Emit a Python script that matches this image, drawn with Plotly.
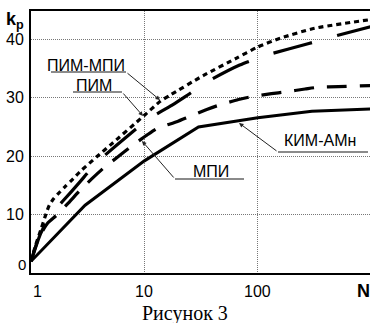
import math
import plotly.graph_objects as go

# ---------------- data ----------------
N_pim_mpi = [1, 1.1, 1.23, 1.35, 1.45, 1.58, 1.74, 2.0, 2.29, 2.69, 3.8, 5.0, 10, 13.8, 17, 33, 65, 100, 158, 316, 1000]
k_pim_mpi = [2, 4.8, 7.6, 10.0, 11.6, 12.7, 13.6, 14.8, 15.9, 17.3, 19.9, 21.9, 27.0, 29.4, 30.5, 33.8, 36.8, 38.7, 40.2, 41.9, 43.4]

N_pim = [1, 1.2, 1.41, 1.63, 2.26, 2.7, 3.8, 7.24, 11.2, 17.4, 22.9, 35.5, 69.2, 120, 282, 447, 1000]
k_pim = [2, 6.5, 9.2, 10.8, 13.9, 15.6, 18.9, 23.6, 26.5, 28.7, 30.2, 32.7, 35.6, 37.3, 39.3, 40.4, 42.2]

N_mpi = [1, 1.17, 1.41, 1.68, 2.14, 2.69, 3.43, 4.32, 5.85, 7.46, 10.5, 12.8, 19.3, 24.4, 35.5, 46.5, 67.6, 88.3, 132, 174, 261, 339, 513, 1000]
k_mpi = [2, 6.0, 8.6, 9.9, 12.0, 14.1, 16.1, 17.9, 19.9, 21.5, 23.6, 24.7, 25.9, 26.7, 28.0, 28.8, 29.7, 30.2, 30.7, 31.0, 31.5, 31.8, 31.9, 32.1]

N_kim = [1, 3, 10, 30, 100, 300, 1000]
k_kim = [2, 11.6, 19.2, 25.0, 26.6, 27.7, 28.1]

x_ticks = [1, 10, 100]
x_tick_labels = ["1", "10", "100"]
y_ticks = [0, 10, 20, 30, 40]
y_tick_labels = ["0", "10", "20", "30", "40"]

# ---------------- layout geometry ----------------
W, H = 370, 323
L, R, T, B = 31, 0, 11, 50
PW, PH = W - L - R, H - T - B
DECADE_PX = 113.4
X_MAX_LOG = PW / DECADE_PX
Y_MAX = 44.86

FONT = "Liberation Sans, Arial, sans-serif"


def P(px, py):
    """pixel -> paper coordinates"""
    return (px - L) / PW, (H - B - py) / PH


fig = go.Figure()

fig.add_trace(go.Scatter(x=N_pim_mpi, y=k_pim_mpi, mode="lines",
                         line=dict(color="black", width=3.2, dash="5px,4px", shape="spline", smoothing=0.6),
                         name="ПИМ-МПИ", hoverinfo="skip"))
fig.add_trace(go.Scatter(x=N_pim, y=k_pim, mode="lines",
                         line=dict(color="black", width=3.2, dash="40px,26px", shape="spline", smoothing=0.6),
                         name="ПИМ", hoverinfo="skip"))
fig.add_trace(go.Scatter(x=N_mpi, y=k_mpi, mode="lines",
                         line=dict(color="black", width=3.2, dash="20px,13px", shape="spline", smoothing=0.6),
                         name="МПИ", hoverinfo="skip"))
fig.add_trace(go.Scatter(x=N_kim, y=k_kim, mode="lines",
                         line=dict(color="black", width=3),
                         name="КИМ-АМн", hoverinfo="skip"))

annotations = []
shapes = []

# tick labels
tick_font = dict(family=FONT, size=16, color="black")
for v, lab in zip(y_ticks, y_tick_labels):
    if v == 0:
        px, py = P(22, 264)
        annotations.append(dict(x=px, y=py, xref="paper", yref="paper", text=lab, showarrow=False,
                                xanchor="center", yanchor="middle", font=dict(family=FONT, size=15, color="black")))
    else:
        py_pix = H - B - v / Y_MAX * PH
        px, py = P(26, py_pix)
        annotations.append(dict(x=px, y=py, xref="paper", yref="paper", text=lab, showarrow=False,
                                xanchor="right", yanchor="middle", font=tick_font))
for v, lab in zip(x_ticks, x_tick_labels):
    xp = L + math.log10(v) * DECADE_PX
    if v == 1:
        xp = 37.5
    px, py = P(xp, 291)
    annotations.append(dict(x=px, y=py, xref="paper", yref="paper", text=lab, showarrow=False,
                            xanchor="center", yanchor="middle", font=tick_font))

# axis titles
px, py = P(363, 291)
annotations.append(dict(x=px, y=py, xref="paper", yref="paper", text="<b>N</b>", showarrow=False,
                        xanchor="center", yanchor="middle", font=dict(family=FONT, size=18, color="black")))
px, py = P(15, 21)
annotations.append(dict(x=px, y=py, xref="paper", yref="paper", text="<b>k</b><sub><b>p</b></sub>", showarrow=False,
                        xanchor="center", yanchor="middle", font=dict(family=FONT, size=18, color="black")))

# caption
px, py = P(185, 313)
annotations.append(dict(x=px, y=py, xref="paper", yref="paper", text="Рисунок 3", showarrow=False,
                        xanchor="center", yanchor="middle",
                        font=dict(family="Liberation Serif, Times New Roman, serif", size=20, color="black")))

# curve labels: (text, text center, underline x0,x1,y, arrow head, tail side)
labels = [
    ("ПИМ-МПИ", (86, 65), (51, 126, 72), (160, 100), "right"),
    ("ПИМ", (94, 85), (73, 122, 92), (143, 116), "right"),
    ("МПИ", (211, 171), (175, 244, 179), (142, 141), "left"),
    ("КИМ-АМн", (320, 140), (278, 368, 152), (239, 123), "left"),
]
for text, (tx, ty), (ux0, ux1, uy), (hx, hy), side in labels:
    px, py = P(tx, ty)
    annotations.append(dict(x=px, y=py, xref="paper", yref="paper", text=text, showarrow=False,
                            xanchor="center", yanchor="middle", font=dict(family=FONT, size=16, color="black")))
    a0, b0 = P(ux0, uy)
    a1, b1 = P(ux1, uy)
    shapes.append(dict(type="line", xref="paper", yref="paper", x0=a0, y0=b0, x1=a1, y1=b1,
                       line=dict(color="#8a8a8a", width=2)))
    tail_x = ux1 if side == "right" else ux0
    hpx, hpy = P(hx, hy)
    annotations.append(dict(x=hpx, y=hpy, xref="paper", yref="paper", text="", showarrow=True,
                            ax=tail_x - hx, ay=uy - hy, axref="pixel", ayref="pixel",
                            arrowhead=2, arrowsize=0.9, arrowwidth=1, arrowcolor="#222",
                            standoff=0, startstandoff=0))

grid = dict(showgrid=True, gridcolor="#777777", gridwidth=1, griddash="1px,1px")

fig.update_layout(
    width=W, height=H,
    margin=dict(l=L, r=R, t=T, b=B),
    paper_bgcolor="white", plot_bgcolor="white",
    showlegend=False,
    xaxis=dict(type="log", range=[0, X_MAX_LOG], tickvals=[10, 100], showticklabels=False, ticks="",
               showline=True, linecolor="black", linewidth=2, mirror=True, zeroline=False, **grid),
    yaxis=dict(range=[0, Y_MAX], tickvals=[10, 20, 30, 40], showticklabels=False, ticks="",
               showline=True, linecolor="black", linewidth=2, mirror=False, zeroline=False, **grid),
    annotations=annotations,
    shapes=shapes,
)

fig.write_html("out.html", config={"displayModeBar": False},
               post_script="document.body.style.margin='0';document.body.style.overflow='hidden';")
